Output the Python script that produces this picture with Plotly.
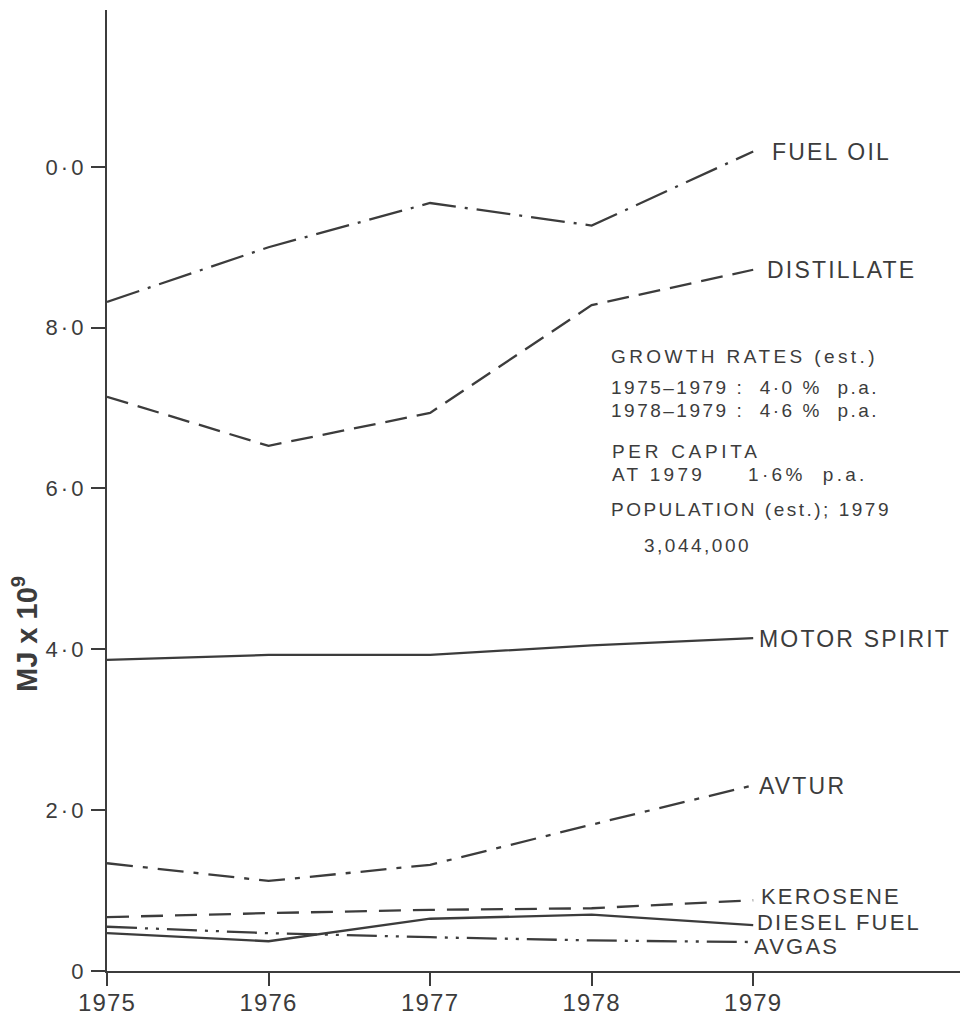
import plotly.graph_objects as go

years = [1975, 1976, 1977, 1978, 1979]
fuel_oil = [8.32, 9.00, 9.55, 9.27, 10.19]
distillate = [7.14, 6.53, 6.94, 8.28, 8.72]
motor_spirit = [3.87, 3.93, 3.93, 4.05, 4.14]
avtur = [1.34, 1.12, 1.32, 1.82, 2.31]
kerosene = [0.67, 0.72, 0.76, 0.78, 0.88]
diesel_fuel = [0.47, 0.37, 0.65, 0.70, 0.57]
avgas = [0.55, 0.47, 0.42, 0.38, 0.36]

series_names = ["FUEL OIL", "DISTILLATE", "MOTOR SPIRIT", "AVTUR", "KEROSENE", "DIESEL FUEL", "AVGAS"]
series_values = [fuel_oil, distillate, motor_spirit, avtur, kerosene, diesel_fuel, avgas]
dashes = ["34px,9px,3px,9px", "22px,10px", "solid", "26px,10px,5px,10px",
          "22px,12px", "solid", "30px,8px,3px,8px,3px,8px"]
label_xshift = [18, 13, 5, 5, 7, 3, 0]
label_yshift = [0, 0, 0, 0, 4, 3, -4]
label_size = [23, 23, 23, 23, 22, 22, 22]

ytick_vals = [0, 2, 4, 6, 8, 10]
ytick_text = ["0", "2·0", "4·0", "6·0", "8·0", "0·0"]

info_lines = [
    "GROWTH RATES (est.)",
    "1975–1979 :  4·0 %  p.a.",
    "1978–1979 :  4·6 %  p.a.",
    "PER CAPITA",
    "AT 1979     1·6%  p.a.",
    "POPULATION (est.); 1979",
    "3,044,000",
]
info_xpx = [609, 609, 609, 610, 610, 609, 642]
info_ypx = [357, 387, 410, 451, 474, 510, 545]
info_spacing = [3.4, 2.5, 2.5, 3.7, 3.3, 2.5, 2.5]

ink = "#3c3c3c"
font_family = "Liberation Sans, Arial, sans-serif"


def spaced(txt, ls):
    return '<span style="letter-spacing:%.1fpx">%s</span>' % (ls, txt)


fig = go.Figure()
for name, vals, dash in zip(series_names, series_values, dashes):
    fig.add_trace(go.Scatter(x=years, y=vals, mode="lines", name=name,
                             line=dict(color=ink, width=2.3, dash=dash),
                             showlegend=False, hoverinfo="x+y+name"))

for name, vals, xs, ys, sz in zip(series_names, series_values, label_xshift, label_yshift, label_size):
    fig.add_annotation(x=years[-1], y=vals[-1], text=spaced(name, 2.2), showarrow=False,
                       xanchor="left", yanchor="middle", xshift=xs, yshift=ys,
                       height=sz, valign="middle", borderpad=0,
                       font=dict(family=font_family, size=sz, color=ink))

for txt, xpx, ypx, ls in zip(info_lines, info_xpx, info_ypx, info_spacing):
    fig.add_annotation(xref="paper", yref="paper",
                       x=(xpx - 107) / 853, y=1 - (ypx - 10) / 961,
                       text=spaced(txt, ls), showarrow=False, xanchor="left", yanchor="middle",
                       font=dict(family=font_family, size=19, color=ink))

fig.add_annotation(xref="paper", yref="paper", x=(25 - 107) / 853, y=1 - (634 - 10) / 961,
                   text="<b>MJ x 10<sup>9</sup></b>", showarrow=False, textangle=-90,
                   xanchor="center", yanchor="middle",
                   font=dict(family=font_family, size=29, color=ink))

fig.update_xaxes(range=[1975, 1980.28], tickvals=years,
                 ticktext=[spaced(str(y), 1.2) for y in years],
                 ticks="outside", ticklen=13, tickwidth=2.2, tickcolor=ink, automargin=False,
                 ticklabelstandoff=-4,
                 showline=True, linecolor=ink, linewidth=2.4, showgrid=False, zeroline=False,
                 tickfont=dict(family=font_family, size=24, color=ink))
fig.update_yaxes(range=[0, 11.95], tickvals=ytick_vals,
                 ticktext=[spaced(t, 3) for t in ytick_text],
                 ticks="outside", ticklen=14, tickwidth=2.2, tickcolor=ink, automargin=False,
                 showline=True, linecolor=ink, linewidth=2.4, showgrid=False, zeroline=False,
                 tickfont=dict(family=font_family, size=22, color=ink))

fig.update_layout(width=972, height=1018, margin=dict(l=107, r=12, t=10, b=47),
                  plot_bgcolor="white", paper_bgcolor="white")

fig.write_html("out.html")
